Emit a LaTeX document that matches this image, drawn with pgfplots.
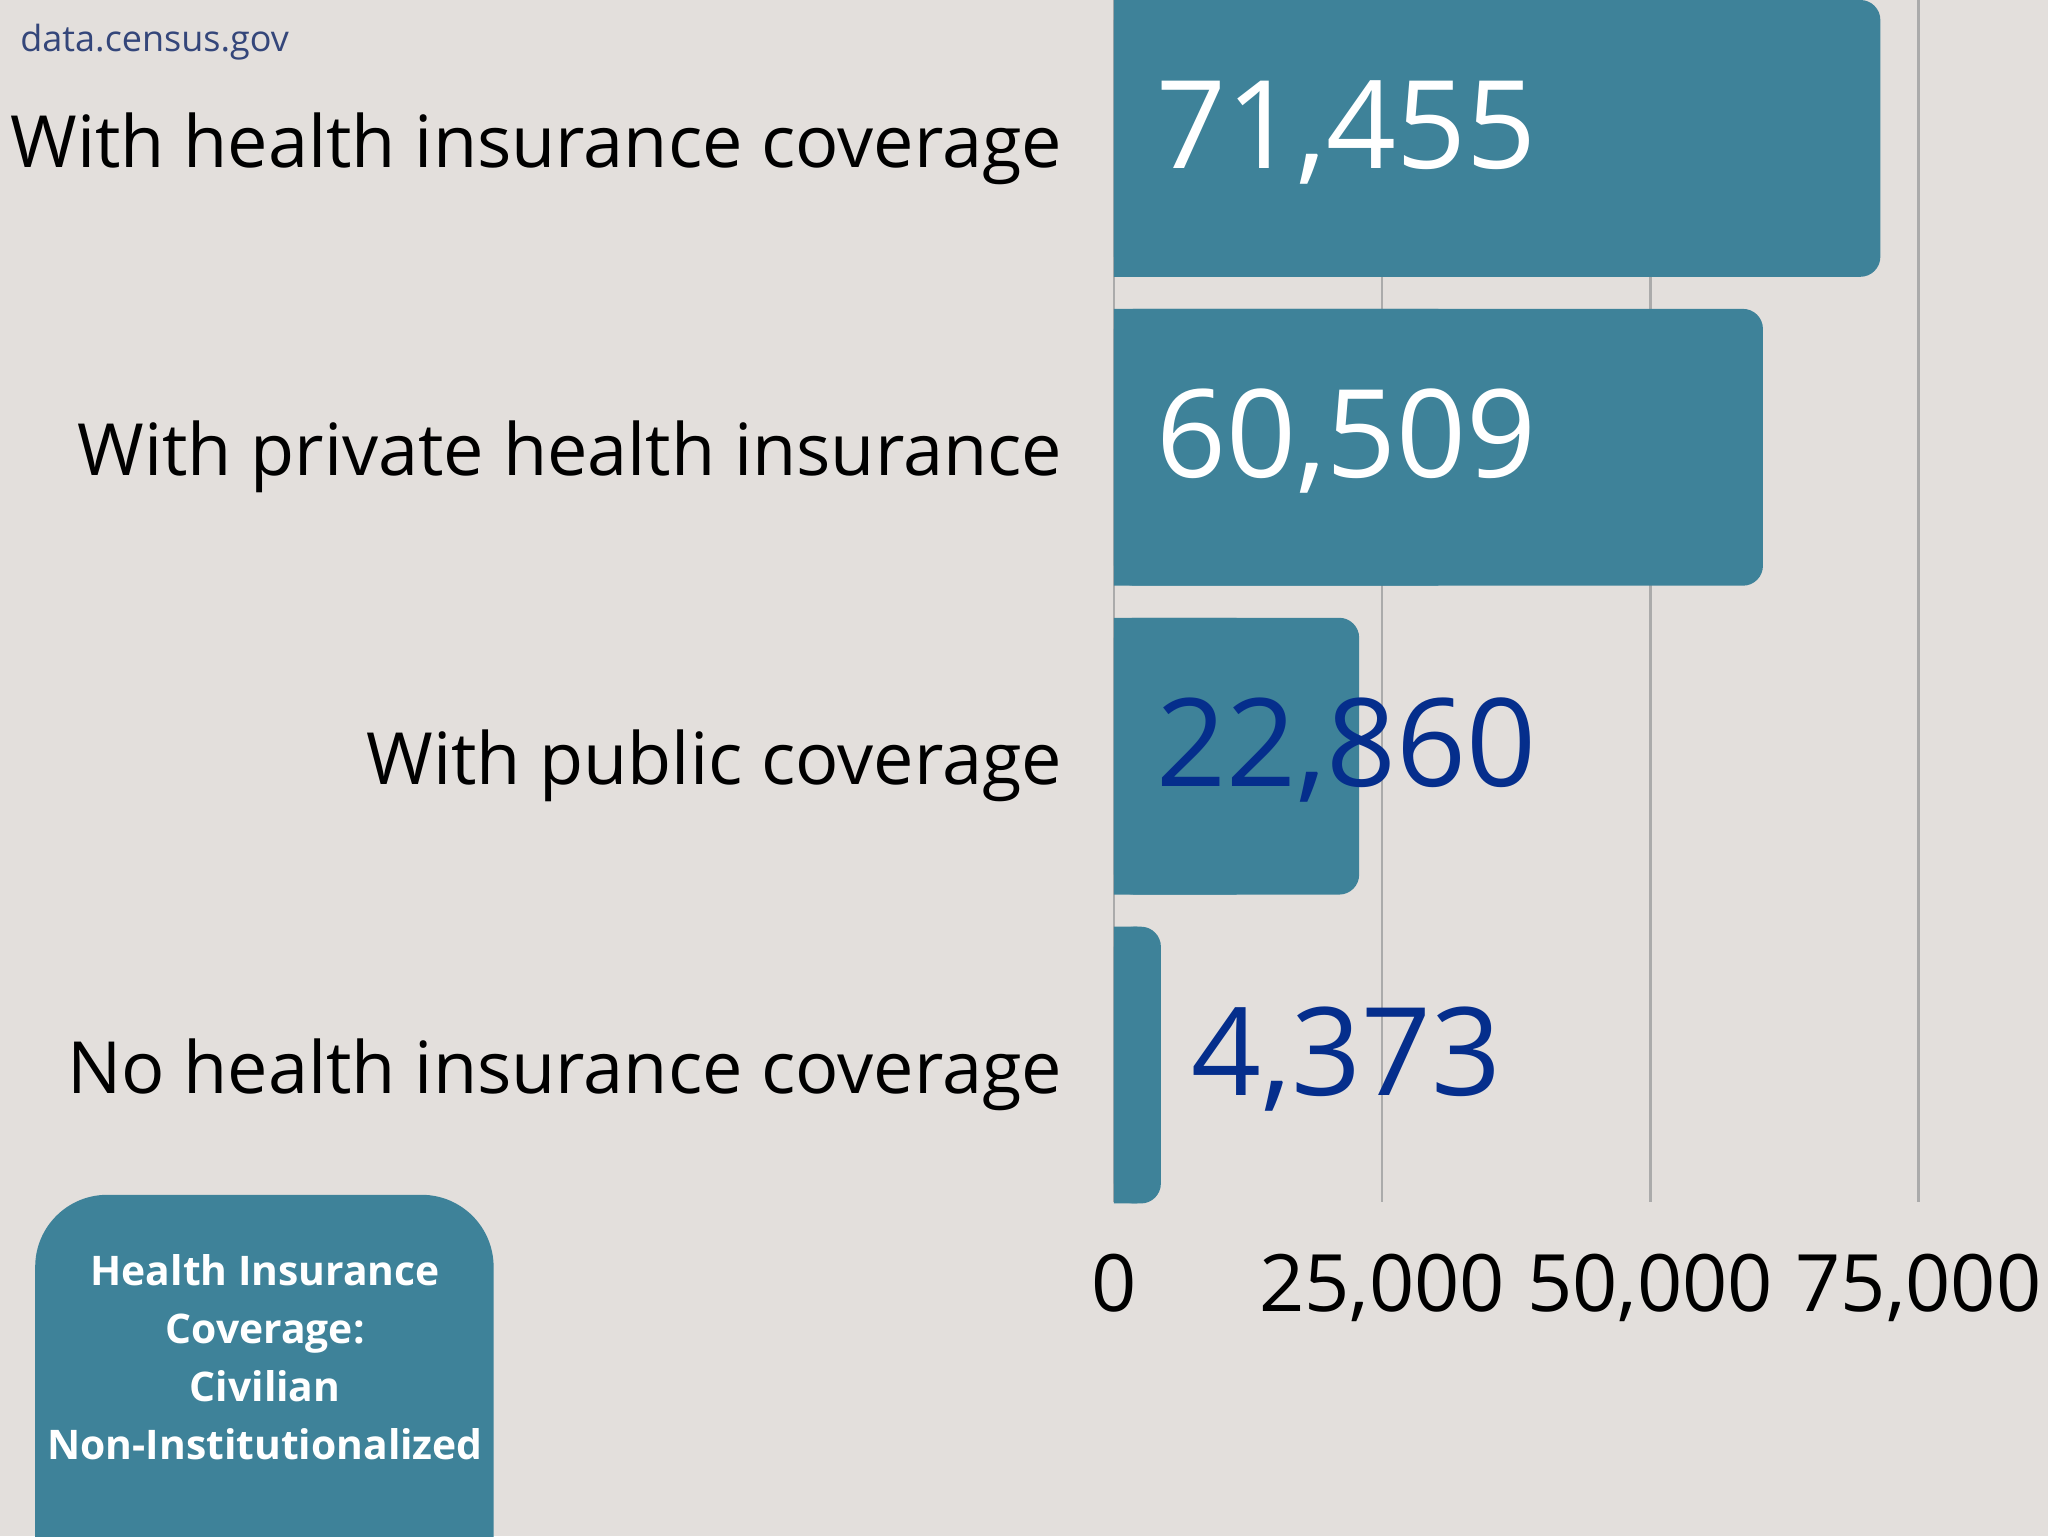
\documentclass[border=0pt]{standalone}
\usepackage{pgfplots}
\pgfplotsset{compat=1.18}
\usepackage{pgfplotstable}
\usepackage{fontspec}
\setmainfont{Open Sans}
\definecolor{bgc}{HTML}{E3DFDC}
\definecolor{barc}{HTML}{3E8299}
\definecolor{gridc}{HTML}{ABABAB}
\definecolor{valblue}{HTML}{052E8C}
\definecolor{srcc}{HTML}{34467A}

\pgfplotstableread{
pos val
4 71455
3 60509
2 22860
1 4373
}\coverage

\begin{document}
\begin{tikzpicture}
\useasboundingbox (0,0) rectangle (512pt,384pt);
\clip (0,0) rectangle (512pt,384pt);
\fill[bgc] (0,0) rectangle (512pt,384pt);
\begin{axis}[
  at={(278.5pt,83.6pt)}, anchor=south west,
  scale only axis, width=201.1pt, height=300.4pt,
  xmin=0, xmax=75000, ymin=0.558, ymax=4.448,
  xtick={0,25000,50000,75000}, scaled x ticks=false,
  ytick={1,2,3,4},
  yticklabels={No health insurance coverage, With public coverage, With private health insurance, With health insurance coverage},
  xmajorgrids, grid style={color=gridc, line width=0.65pt},
  axis line style={draw=none}, major tick length=0pt,
  /pgf/number format/1000 sep={,},
  /pgf/number format/assume math mode=true,
  xticklabel style={font=\fontsize{19.8}{19.8}\selectfont, anchor=north, inner sep=0pt, yshift=-13pt},
  yticklabel style={font=\fontsize{18}{18}\selectfont, anchor=east, inner sep=0pt, xshift=-12.8pt, yshift=-2.5pt},
  clip=false,
]
% rounded bars, then a square half-length copy hides the left corners
\addplot[xbar, bar width=69.2pt, bar shift=0pt, fill=barc, draw=none, rounded corners=5pt]
  table[x=val, y=pos] {\coverage};
\addplot[xbar, bar width=69.2pt, bar shift=0pt, fill=barc, draw=none, x filter/.expression={x/2}]
  table[x=val, y=pos] {\coverage};
% value labels
\addplot[draw=none, restrict y to domain=2.5:4.5, nodes near coords, point meta=explicit,
  every node near coord/.append style={anchor=center, text=white, font=\fontsize{30.6}{30.6}\selectfont, yshift=1.5pt}]
  table[x expr=21700, y=pos, meta=val] {\coverage};
\addplot[draw=none, restrict y to domain=0.5:2.5, nodes near coords, point meta=explicit,
  every node near coord/.append style={anchor=center, text=valblue, font=\fontsize{30.6}{30.6}\selectfont, yshift=1.5pt}]
  table[x expr=21700, y=pos, meta=val] {\coverage};
\end{axis}
\node[anchor=base west, text=srcc, font=\fontsize{9}{9}\selectfont, inner sep=0pt] at (4.9pt,371pt) {data.census.gov};
\fill[barc, rounded corners=18pt] (8.8pt,-30pt) rectangle (123.4pt,85.3pt);
\node[text=white, font=\bfseries\fontsize{10.2}{14.5}\selectfont, align=center] at (66.3pt,44.6pt)
  {Health Insurance\\Coverage:\\Civilian\\Non-Institutionalized};
\end{tikzpicture}
\end{document}
